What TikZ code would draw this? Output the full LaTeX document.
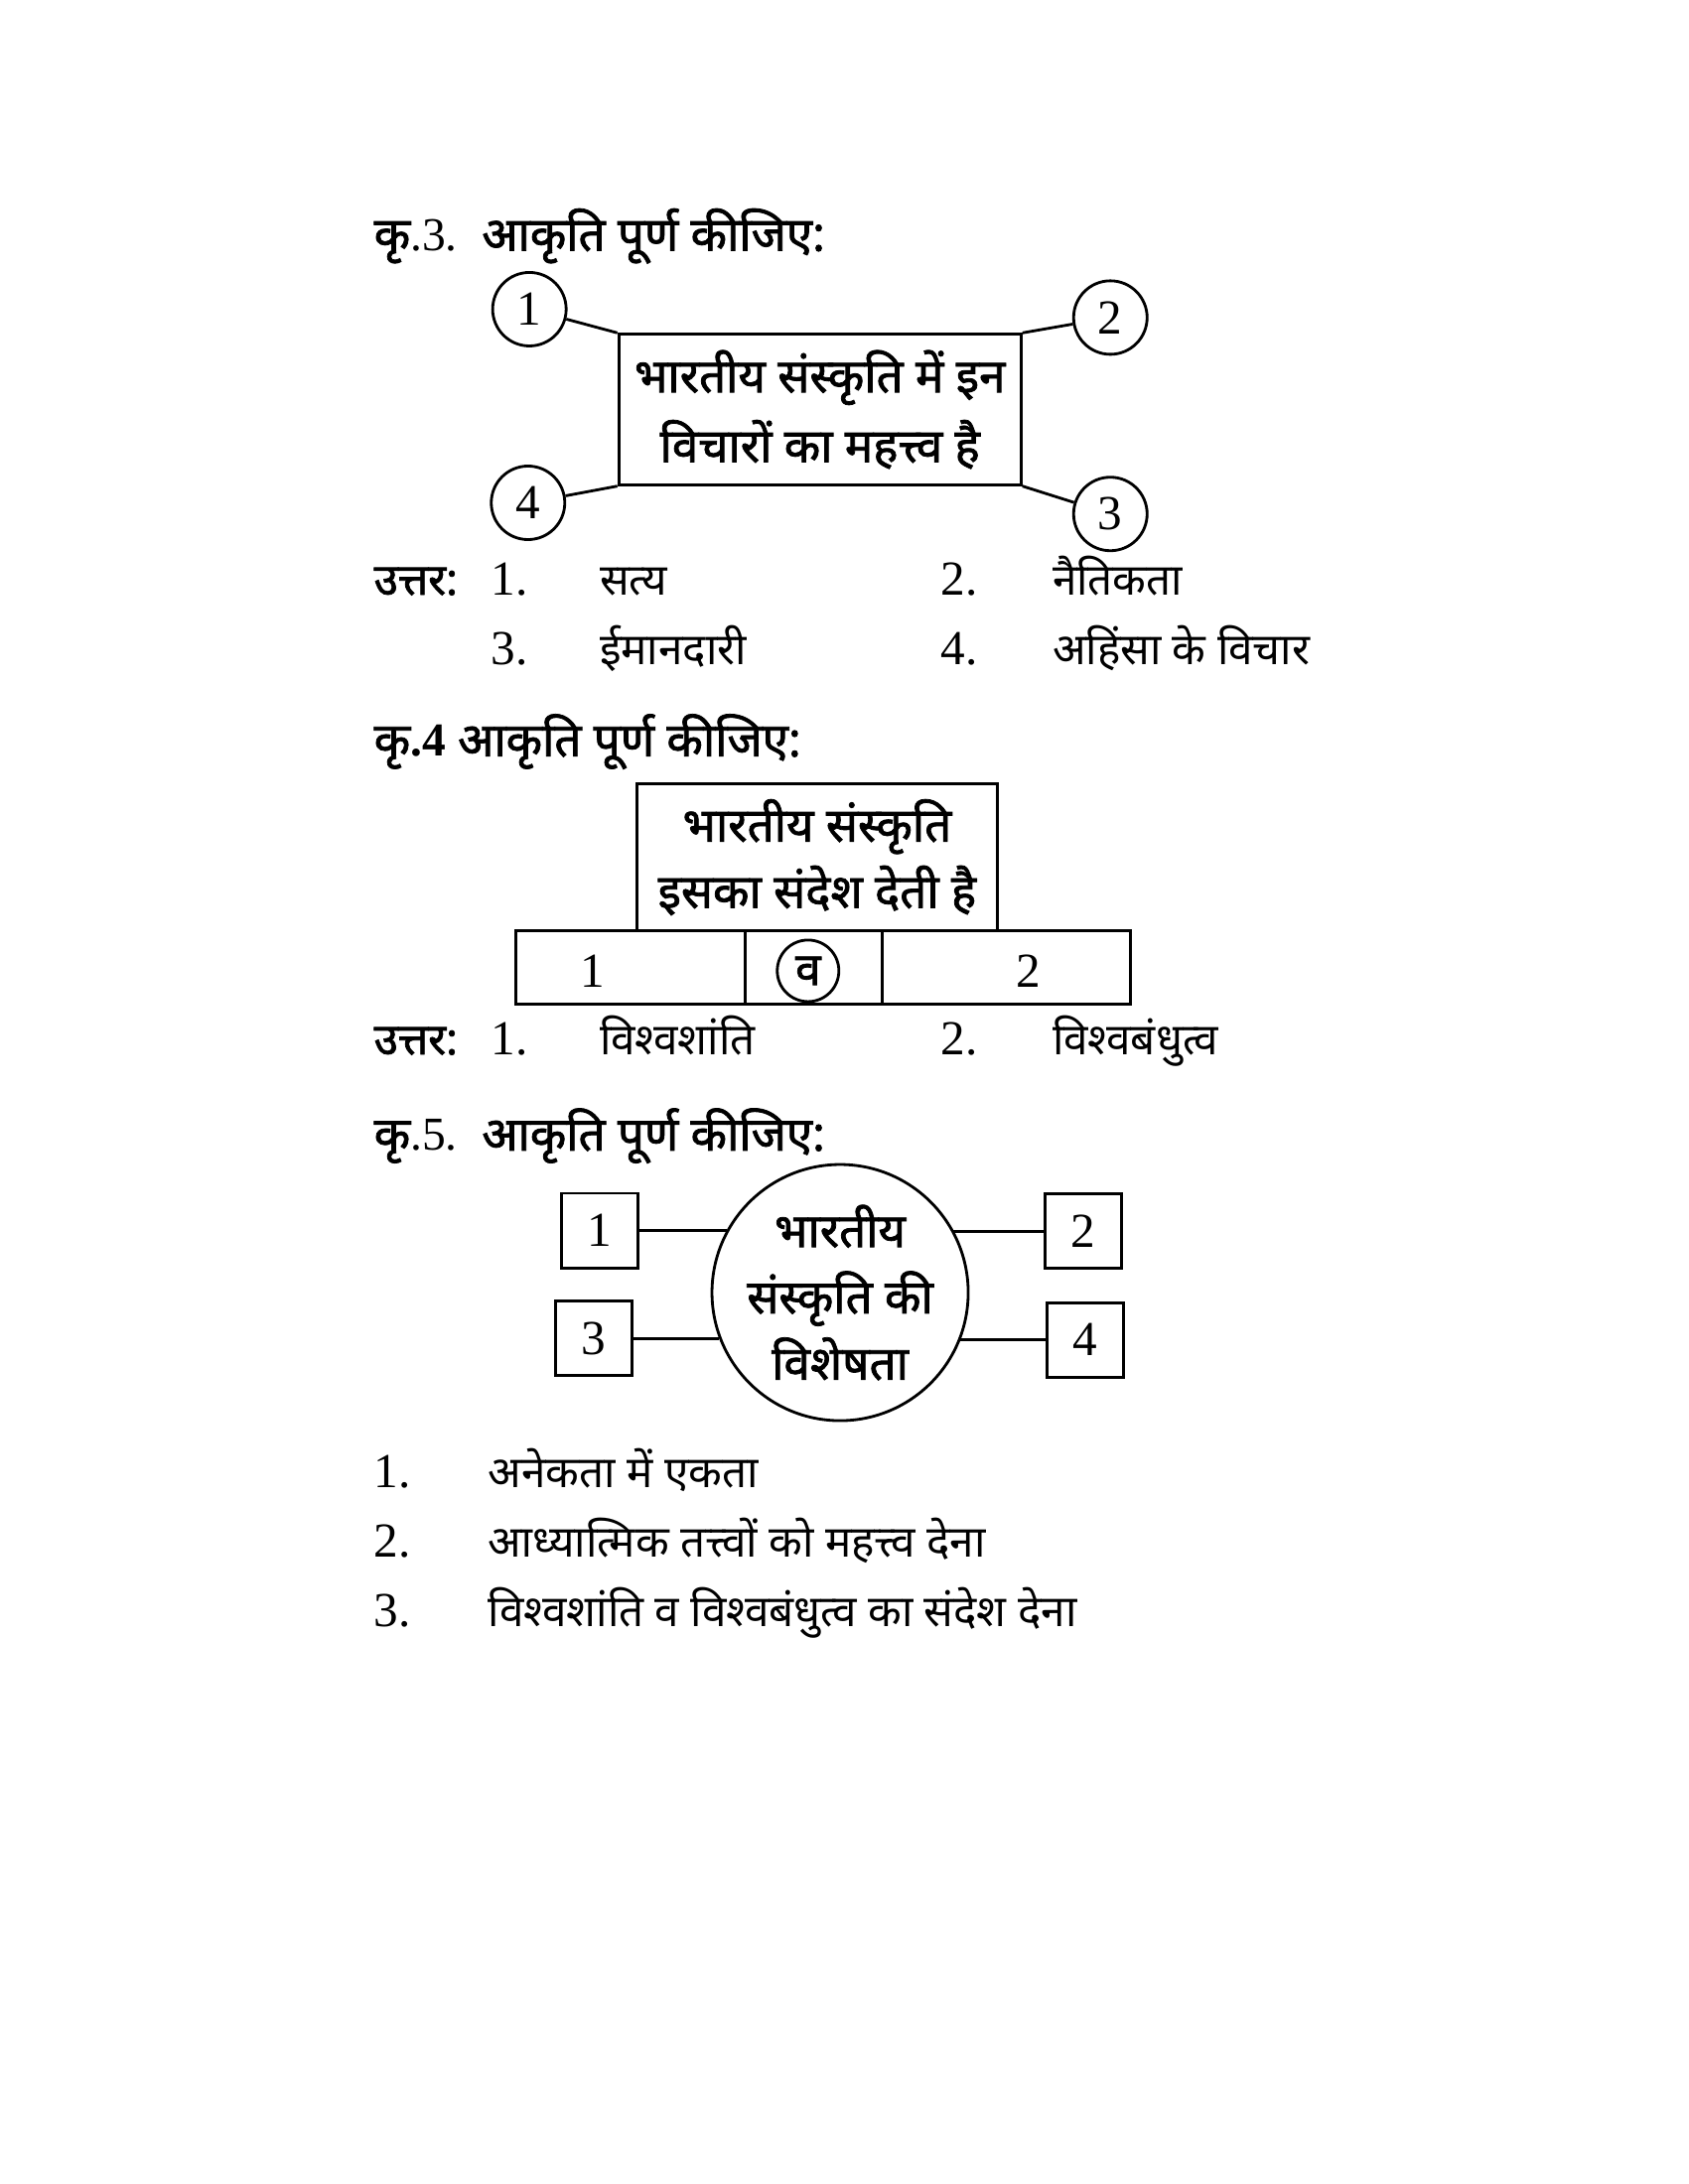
\documentclass[tikz,border=0pt]{standalone}
\usepackage{fontspec}
\setmainfont{Liberation Serif}
\newfontfamily\dev[Script=Devanagari]{Noto Sans}
\newfontfamily\devb[Script=Devanagari,FakeBold=1.6]{Noto Sans}
\usetikzlibrary{positioning}

\begin{document}
\begin{tikzpicture}[
  x=0.014026cm, y=-0.014026cm,
  head/.style={anchor=base west, inner sep=0pt, font=\devb\fontsize{13.5}{16}\selectfont},
  txt/.style={anchor=base west, inner sep=0pt, font=\dev\fontsize{12.5}{15}\selectfont},
  num/.style={anchor=base west, inner sep=0pt, font=\rmfamily\fontsize{14}{16}\selectfont},
  box/.style={draw, thick, align=center, inner sep=0pt, font=\devb\fontsize{13.5}{20}\selectfont},
  ring/.style={draw, thick, circle, inner sep=0pt, minimum size=0.74cm, font=\rmfamily\fontsize{14}{16}\selectfont},
  cell/.style={draw, thick, inner sep=0pt, outer sep=0pt, minimum height=0.743cm},
  sq/.style={draw, thick, inner sep=0pt, minimum width=0.77cm, minimum height=0.75cm, font=\rmfamily\fontsize{14}{16}\selectfont},
  link/.style={thick}
]
\fill[white] (0,0) rectangle (1212,1568);
\useasboundingbox (0,0) rectangle (1212,1568);

\node[head] (title3) at (268,180) {कृ{\rmfamily .3.}\ \ आकृति पूर्ण कीजिए:};
\node[box, minimum width=4.05cm, minimum height=1.515cm] (ideas) at (588.5,294)
  {भारतीय संस्कृति में इन\\विचारों का महत्त्व है};
\node[ring] (ring1) at (380,222) {1};
\node[ring] (ring2) at (797,228) {2};
\node[ring] (ring3) at (797,369) {3};
\node[ring] (ring4) at (379,361) {4};
\draw[link] (ring1) -- (ideas.north west);
\draw[link] (ring2) -- (ideas.north east);
\draw[link] (ring3) -- (ideas.south east);
\draw[link] (ring4) -- (ideas.south west);

\node[txt, font=\devb\fontsize{12.5}{15}\selectfont] (ans3) at (268,427) {उत्तर:};
\node[num] (a3n1) at (352,427) {1.};
\node[txt] (a3t1) at (430,427) {सत्य};
\node[num] (a3n2) at (675,427) {2.};
\node[txt] (a3t2) at (755,427) {नैतिकता};
\node[num] (a3n3) at (352,477) {3.};
\node[txt] (a3t3) at (430,477) {ईमानदारी};
\node[num] (a3n4) at (675,477) {4.};
\node[txt] (a3t4) at (755,477) {अहिंसा के विचार};

\node[head] (title4) at (268,543) {कृ{\rmfamily\bfseries .4} आकृति पूर्ण कीजिए:};
\node[box, minimum width=3.633cm, minimum height=1.473cm, font=\devb\fontsize{13.5}{19}\selectfont] (message) at (586.5,615.5)
  {भारतीय संस्कृति\\इसका संदेश देती है};
\node[cell, minimum width=2.314cm, anchor=north west] (cell1) at (370,668) {};
\node[cell, minimum width=1.375cm, right=0pt of cell1] (cell2) {};
\node[cell, minimum width=2.497cm, right=0pt of cell2] (cell3) {};
\node[num, anchor=center] (lab1) at (425,697) {1};
\node[ring, minimum size=0.62cm, font=\devb\fontsize{13}{16}\selectfont] (va) at (580,697) {व};
\node[num, anchor=center] (lab2) at (738,697) {2};

\node[txt, font=\devb\fontsize{12.5}{15}\selectfont] (ans4) at (268,757) {उत्तर:};
\node[num] (a4n1) at (352,757) {1.};
\node[txt] (a4t1) at (430,757) {विश्वशांति};
\node[num] (a4n2) at (675,757) {2.};
\node[txt] (a4t2) at (755,757) {विश्वबंधुत्व};

\node[head] (title5) at (268,826) {कृ{\rmfamily .5.}\ \ आकृति पूर्ण कीजिए:};
\node[box, circle, minimum size=2.54cm, font=\devb\fontsize{13.5}{19}\selectfont] (traits) at (603,928)
  {भारतीय\\संस्कृति की\\विशेषता};
\node[sq] (sq1) at (430.5,883.5) {1};
\node[sq] (sq2) at (777.5,884) {2};
\node[sq] (sq3) at (426,961) {3};
\node[sq] (sq4) at (779,962) {4};
\draw[link] (sq1.east) -- (sq1.east -| traits.151);
\draw[link] (sq2.west) -- (sq2.west -| traits.29);
\draw[link] (sq3.east) -- (sq3.east -| traits.201);
\draw[link] (sq4.west) -- (sq4.west -| traits.338);

\node[num] (l1) at (268,1068) {1.};
\node[txt] (t1) at (350,1068) {अनेकता में एकता};
\node[num] (l2) at (268,1118) {2.};
\node[txt] (t2) at (350,1118) {आध्यात्मिक तत्त्वों को महत्त्व देना};
\node[num] (l3) at (268,1168) {3.};
\node[txt] (t3) at (350,1168) {विश्वशांति व विश्वबंधुत्व का संदेश देना};
\end{tikzpicture}
\end{document}
